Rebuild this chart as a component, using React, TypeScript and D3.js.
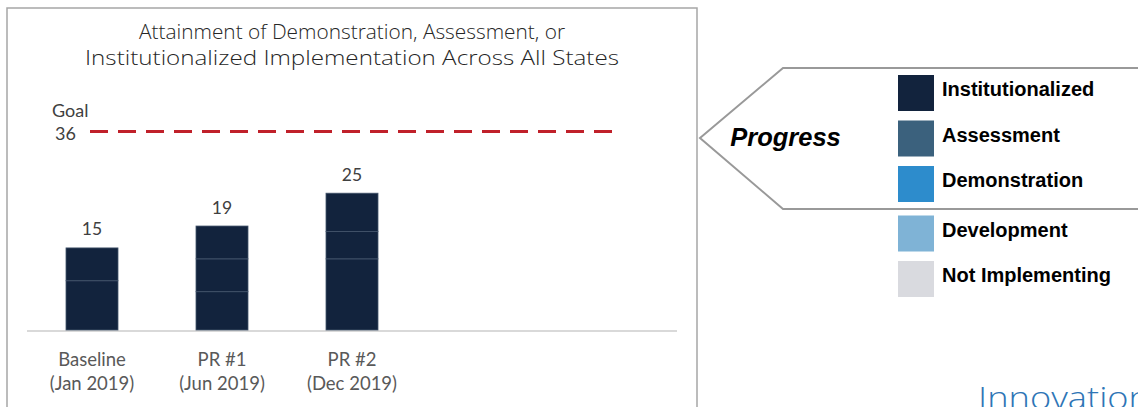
import { useRef, useEffect } from 'react'
import * as d3 from 'd3'

// reporting periods (last two slots are still empty on the chart)
const periods = ['Baseline', 'PR #1', 'PR #2', 'PR #3', 'PR #4']
const periodDates = ['(Jan 2019)', '(Jun 2019)', '(Dec 2019)', '', '']

// stacked pieces, bottom to top
const seriesNames = ['Institutionalized', 'Assessment', 'Demonstration']
const institutionalized = [9, 7, 13]
const assessment = [0, 6, 5]
const demonstration = [6, 6, 7]

const goal = 36

const legendNames = ['Institutionalized', 'Assessment', 'Demonstration', 'Development', 'Not Implementing']
const legendColors = ['#12233d', '#3b617d', '#2d8ccc', '#7fb3d6', '#d9dadf']

const titleLines = ['Attainment of Demonstration, Assessment, or', 'Institutionalized Implementation Across All States']
const titleWidths = [426, 534]

const W = 1138
const H = 407
const calibri = "Lato, 'Open Sans', sans-serif"
const helv = "'Liberation Sans', Arial, sans-serif"

export default function App() {
  const svgRef = useRef<SVGSVGElement>(null)

  useEffect(() => {
    if (!svgRef.current) return
    const svg = d3.select(svgRef.current)
    svg.selectAll('*').remove()

    svg.append('rect').attr('width', W).attr('height', H).attr('fill', '#fff')

    // chart panel border
    svg.append('path')
      .attr('d', 'M7,420 V8 H697 V420')
      .attr('fill', 'none')
      .attr('stroke', '#a6a6a6')
      .attr('stroke-width', 1.5)

    // title (wide geometric face, so stretch to the original widths)
    svg.append('g')
      .selectAll('text')
      .data(titleLines)
      .join('text')
      .attr('x', (_, i) => 352 - titleWidths[i] / 2)
      .attr('y', (_, i) => 39 + i * 26)
      .attr('textLength', (_, i) => titleWidths[i])
      .attr('lengthAdjust', 'spacingAndGlyphs')
      .attr('fill', '#262626')
      .attr('font-size', '21px')
      .attr('font-weight', 300)
      .attr('font-family', "'Open Sans', sans-serif")
      .text(d => d)

    const x = d3.scaleBand<string>()
      .domain(periods)
      .range([27, 677])
      .paddingInner(0.6)
      .paddingOuter(0.3)

    const y = d3.scaleLinear().domain([0, goal]).range([330, 133])

    const rows = institutionalized.map((_, i) => ({
      period: periods[i],
      Institutionalized: institutionalized[i],
      Assessment: assessment[i],
      Demonstration: demonstration[i],
    }))
    const stacked = d3.stack<any>().keys(seriesNames)(rows)

    // baseline axis
    svg.append('line')
      .attr('x1', 27).attr('x2', 677)
      .attr('y1', y(0) + 1).attr('y2', y(0) + 1)
      .attr('stroke', '#d9d9d9')
      .attr('stroke-width', 2)

    // stacked bars, all in the dark "attained" colour
    svg.append('g')
      .selectAll('g')
      .data(stacked)
      .join('g')
      .selectAll('rect')
      .data(d => d.filter(s => s[1] - s[0] > 0))
      .join('rect')
      .attr('x', d => x(d.data.period)!)
      .attr('width', x.bandwidth())
      .attr('y', d => y(d[1]))
      .attr('height', d => y(d[0]) - y(d[1]))
      .attr('fill', '#12233d')
      .attr('stroke', '#44556c')
      .attr('stroke-width', 0.8)

    // totals
    const totals = rows.map(r => ({ period: r.period, total: r.Institutionalized + r.Assessment + r.Demonstration }))
    svg.append('g')
      .selectAll('text')
      .data(totals)
      .join('text')
      .attr('x', d => x(d.period)! + x.bandwidth() / 2)
      .attr('y', d => y(d.total) - 12.5)
      .attr('text-anchor', 'middle')
      .attr('fill', '#404040')
      .attr('font-size', '17.5px')
      .attr('font-family', calibri)
      .text(d => d.total)

    // category labels
    const labelled = periods.filter((_, i) => periodDates[i] !== '')
    const cat = svg.append('g')
      .selectAll('text')
      .data(labelled)
      .join('text')
      .attr('text-anchor', 'middle')
      .attr('fill', '#595959')
      .attr('font-size', '18.5px')
      .attr('font-family', calibri)
    cat.append('tspan')
      .attr('x', d => x(d)! + x.bandwidth() / 2)
      .attr('y', 366)
      .text(d => d)
    cat.append('tspan')
      .attr('x', d => x(d)! + x.bandwidth() / 2)
      .attr('y', 390)
      .text(d => periodDates[periods.indexOf(d)])

    // goal line
    svg.append('line')
      .attr('x1', 90).attr('x2', 612)
      .attr('y1', y(goal) - 1.5).attr('y2', y(goal) - 1.5)
      .attr('stroke', '#c0202a')
      .attr('stroke-width', 3)
      .attr('stroke-dasharray', '18,10')
    svg.append('text')
      .attr('x', 52).attr('y', 116.5)
      .attr('fill', '#404040')
      .attr('font-size', '18px')
      .attr('font-family', calibri)
      .text('Goal')
    svg.append('text')
      .attr('x', 55).attr('y', 140)
      .attr('fill', '#404040')
      .attr('font-size', '18px')
      .attr('font-family', calibri)
      .text(goal)

    // progress arrow
    svg.append('path')
      .attr('d', 'M1145,68 H783 L700,138 L783,209 H1145')
      .attr('fill', 'none')
      .attr('stroke', '#999')
      .attr('stroke-width', 2)
    svg.append('text')
      .attr('x', 785.5).attr('y', 146)
      .attr('text-anchor', 'middle')
      .attr('fill', '#000')
      .attr('font-size', '25.5px')
      .attr('font-style', 'italic')
      .attr('font-weight', 'bold')
      .attr('font-family', helv)
      .text('Progress')

    // legend
    const ly = (i: number) => 75 + i * 45.5 + (i >= 3 ? 4 : 0)
    const leg = svg.append('g')
      .selectAll('g')
      .data(legendNames)
      .join('g')
      .attr('transform', (_, i) => `translate(898,${ly(i)})`)
    leg.append('rect')
      .attr('width', 36).attr('height', 36)
      .attr('fill', (_, i) => legendColors[i])
    leg.append('text')
      .attr('x', 44).attr('y', 21)
      .attr('fill', '#000')
      .attr('font-size', '20px')
      .attr('font-weight', 'bold')
      .attr('font-family', helv)
      .text(d => d)

    // cropped footer word
    svg.append('text')
      .attr('x', 978).attr('y', 409)
      .attr('textLength', 172)
      .attr('lengthAdjust', 'spacingAndGlyphs')
      .attr('fill', '#2e75b6')
      .attr('font-size', '31px')
      .attr('font-weight', 300)
      .attr('font-family', "'Open Sans', sans-serif")
      .text('Innovation')
  }, [])

  return <svg ref={svgRef} width={W} height={H} style={{ position: 'absolute', left: 0, top: 0 }} />
}
